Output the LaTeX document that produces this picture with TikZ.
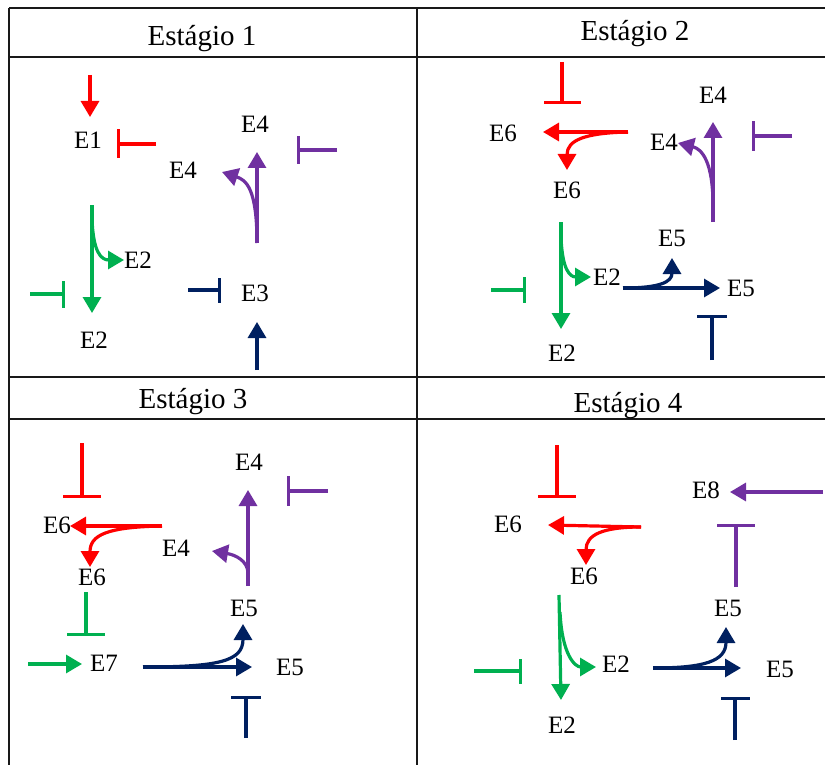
\documentclass[tikz,border=0pt]{standalone}
\usepackage{fontspec}
\setmainfont{Liberation Serif}
\usetikzlibrary{arrows.meta}
\definecolor{cred}{HTML}{FF0000}
\definecolor{cgreen}{HTML}{00B050}
\definecolor{cpurple}{HTML}{7030A0}
\definecolor{cnavy}{HTML}{002060}
\tikzset{
  tbl/.style={line width=2pt, draw=black!90},
  hdr/.style={anchor=base, inner sep=0pt, font=\fontsize{29}{29}\selectfont},
  lbl/.style={inner sep=0pt, font=\fontsize{25}{25}\selectfont},
  act/.style={line width=3.2pt, -{Triangle[width=18pt,length=16pt]}},
  inh/.style={line width=3.2pt, -{Rectangle[width=#1,length=3.4pt]}},
  inh/.default=30pt
}
\begin{document}
\begin{tikzpicture}[x=1pt,y=-1pt]
\useasboundingbox (0,0) rectangle (825,765);
% table
\draw[tbl] (9,7.7) -- (825,7.7);
\draw[tbl] (9,7.7) -- (9,765);
\draw[tbl] (417.3,7.7) -- (417.3,765);
\draw[tbl] (9,56.7) -- (825,56.7);
\draw[tbl] (9,377.3) -- (825,377.3);
\draw[tbl] (9,419.3) -- (825,419.3);
% headers
\node[hdr] (h1) at (202,46) {Estágio 1};
\node[hdr] (h2) at (635,41) {Estágio 2};
\node[hdr] (h3) at (193,408) {Estágio 3};
\node[hdr] (h4) at (628,412) {Estágio 4};

% ---------- Stage 1 ----------
\node[lbl] (a1) at (88,140) {E1};
\node[lbl] (a4t) at (255,124) {E4};
\node[lbl] (a4l) at (183,170) {E4};
\node[lbl] (a2r) at (138,260) {E2};
\node[lbl] (a2b) at (94,340) {E2};
\node[lbl] (a3) at (255,293) {E3};
\coordinate (a1s) at (90,75);   \coordinate (a1e) at (90,117);
\draw[act, cred] (a1s) -- (a1e);
\coordinate (a1is) at (156,144); \coordinate (a1ie) at (117,144);
\draw[inh=29pt, cred] (a1is) -- (a1ie);
\coordinate (a4s) at (257,243); \coordinate (a4e) at (257,152); \coordinate (a4b) at (222,172);
\draw[act, cpurple] (a4s) -- (a4e);
\draw[act, cpurple] (a4s) .. controls (257,188) and (246,180) .. (a4b);
\coordinate (a4is) at (337,150); \coordinate (a4ie) at (297,150);
\draw[inh=28pt, cpurple] (a4is) -- (a4ie);
\coordinate (a2s) at (92,205); \coordinate (a2e) at (92,313); \coordinate (a2bt) at (124,260);
\draw[act, cgreen] (a2s) -- (a2e);
\draw[act, cgreen] (92,218) .. controls (93,252) and (101,260) .. (a2bt);
\coordinate (a2is) at (30,294); \coordinate (a2ie) at (65,294);
\draw[inh=27pt, cgreen] (a2is) -- (a2ie);
\coordinate (a3is) at (188,290); \coordinate (a3ie) at (221,290);
\draw[inh=25pt, cnavy] (a3is) -- (a3ie);
\coordinate (a3s) at (257,370); \coordinate (a3e) at (257,322);
\draw[act, cnavy] (a3s) -- (a3e);

% ---------- Stage 2 ----------
\node[lbl] (b6l) at (503,133) {E6};
\node[lbl] (b6b) at (567,190) {E6};
\node[lbl] (b4t) at (713,95) {E4};
\node[lbl] (b4l) at (664,142) {E4};
\node[lbl] (b2r) at (607,277) {E2};
\node[lbl] (b2b) at (562,353) {E2};
\node[lbl] (b5t) at (672,238) {E5};
\node[lbl] (b5r) at (741,288) {E5};
\coordinate (b6is) at (562,62); \coordinate (b6ie) at (562,104);
\draw[inh=37pt, cred] (b6is) -- (b6ie);
\coordinate (b6s) at (628,132); \coordinate (b6e) at (543,132); \coordinate (b6d) at (567,170);
\draw[act, cred] (b6s) -- (b6e);
\draw[act, cred] (b6s) .. controls (585,133) and (567,140) .. (b6d);
\coordinate (b4s) at (713,222); \coordinate (b4e) at (713,122); \coordinate (b4b) at (678,143);
\draw[act, cpurple] (b4s) -- (b4e);
\draw[act, cpurple] (713,205) .. controls (713,162) and (702,149) .. (b4b);
\coordinate (b4is) at (792,136); \coordinate (b4ie) at (752,136);
\draw[inh=30pt, cpurple] (b4is) -- (b4ie);
\coordinate (b2s) at (561,222); \coordinate (b2e) at (561,329); \coordinate (b2bt) at (591,277);
\draw[act, cgreen] (b2s) -- (b2e);
\draw[act, cgreen] (561,236) .. controls (562,270) and (570,277) .. (b2bt);
\coordinate (b2is) at (491,290); \coordinate (b2ie) at (526,290);
\draw[inh=26pt, cgreen] (b2is) -- (b2ie);
\coordinate (b5s) at (623,288); \coordinate (b5e) at (720,288); \coordinate (b5u) at (672,258);
\draw[act, cnavy] (b5s) -- (b5e);
\draw[act, cnavy] (b5s) .. controls (660,288) and (672,282) .. (b5u);
\coordinate (b5is) at (712,360); \coordinate (b5ie) at (712,315);
\draw[inh=30pt, cnavy] (b5is) -- (b5ie);

% ---------- Stage 3 ----------
\node[lbl] (c6l) at (57,525) {E6};
\node[lbl] (c6b) at (92,577) {E6};
\node[lbl] (c4t) at (249,462) {E4};
\node[lbl] (c4l) at (176,548) {E4};
\node[lbl] (c5m) at (244,608) {E5};
\node[lbl] (c7) at (104,663) {E7};
\node[lbl] (c5r) at (290,667) {E5};
\coordinate (c6is) at (82,443); \coordinate (c6ie) at (82,498);
\draw[inh=38pt, cred] (c6is) -- (c6ie);
\coordinate (c6s) at (162,526); \coordinate (c6e) at (70,526); \coordinate (c6d) at (90,567);
\draw[act, cred] (c6s) -- (c6e);
\draw[act, cred] (c6s) .. controls (107,527) and (90,535) .. (c6d);
\coordinate (c4s) at (248,586); \coordinate (c4e) at (248,490); \coordinate (c4b) at (212,551);
\draw[act, cpurple] (c4s) -- (c4e);
\draw[act, cpurple] (248,572) .. controls (247,561) and (236,555) .. (c4b);
\coordinate (c4is) at (328,491); \coordinate (c4ie) at (287,491);
\draw[inh=30pt, cpurple] (c4is) -- (c4ie);
\coordinate (c7is) at (86,592); \coordinate (c7ie) at (86,636);
\draw[inh=38pt, cgreen] (c7is) -- (c7ie);
\coordinate (c7s) at (28,664); \coordinate (c7e) at (82,664);
\draw[act, cgreen] (c7s) -- (c7e);
\coordinate (c5s) at (143,667); \coordinate (c5e) at (252,667); \coordinate (c5u) at (243,624);
\draw[act, cnavy] (c5s) -- (c5e);
\draw[act, cnavy] (c5s) .. controls (220,667) and (243,661) .. (c5u);
\coordinate (c5is) at (246,738); \coordinate (c5ie) at (246,696);
\draw[inh=30pt, cnavy] (c5is) -- (c5ie);

% ---------- Stage 4 ----------
\node[lbl] (d6l) at (508,524) {E6};
\node[lbl] (d6b) at (584,576) {E6};
\node[lbl] (d8) at (706,490) {E8};
\node[lbl] (d5m) at (728,608) {E5};
\node[lbl] (d2r) at (616,664) {E2};
\node[lbl] (d2b) at (562,725) {E2};
\node[lbl] (d5r) at (780,669) {E5};
\coordinate (d6is) at (557,445); \coordinate (d6ie) at (557,498);
\draw[inh=38pt, cred] (d6is) -- (d6ie);
\coordinate (d6s) at (641,527); \coordinate (d6e) at (548,525); \coordinate (d6d) at (586,565);
\draw[act, cred] (d6s) -- (d6e);
\draw[act, cred] (d6s) .. controls (602,527) and (586,535) .. (d6d);
\coordinate (d8s) at (823,492); \coordinate (d8e) at (730,492);
\draw[act, cpurple] (d8s) -- (d8e);
\coordinate (d8is) at (736,587); \coordinate (d8ie) at (736,524);
\draw[inh=38pt, cpurple] (d8is) -- (d8ie);
\coordinate (d2s) at (559,595); \coordinate (d2e) at (561,700); \coordinate (d2bt) at (596,667);
\draw[act, cgreen] (d2s) -- (d2e);
\draw[act, cgreen] (560,612) .. controls (562,655) and (575,667) .. (d2bt);
\coordinate (d2is) at (474,671); \coordinate (d2ie) at (522,671);
\draw[inh=25pt, cgreen] (d2is) -- (d2ie);
\coordinate (d5s) at (653,668); \coordinate (d5e) at (741,668); \coordinate (d5u) at (726,627);
\draw[act, cnavy] (d5s) -- (d5e);
\draw[act, cnavy] (d5s) .. controls (705,668) and (726,661) .. (d5u);
\coordinate (d5is) at (735,740); \coordinate (d5ie) at (735,697);
\draw[inh=29pt, cnavy] (d5is) -- (d5ie);
\end{tikzpicture}
\end{document}
